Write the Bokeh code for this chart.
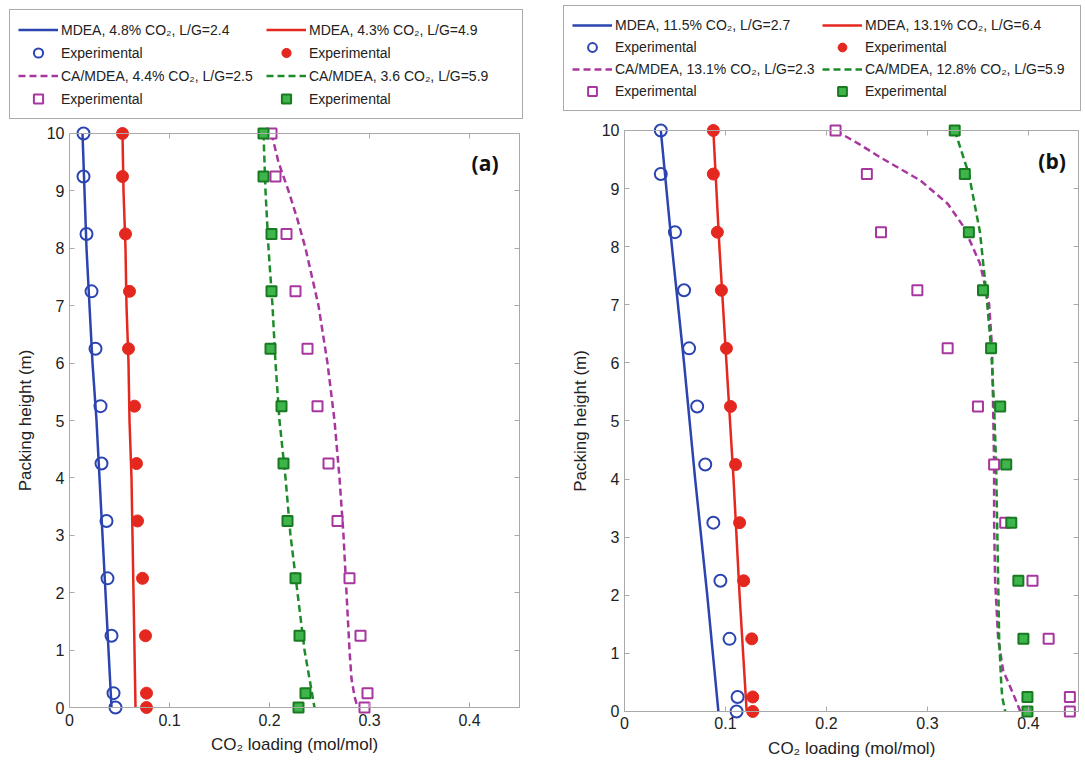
import math
from bokeh.plotting import figure
from bokeh.models import (Legend, LegendItem, LinearAxis, FixedTicker, Range1d, Label)
from bokeh.core.properties import value
from bokeh.layouts import row
from bokeh.embed import file_html
from bokeh.resources import INLINE

FONT = "Liberation Sans"
BLUE = "#2b44b0"
RED = "#e5281f"
MAGENTA = "#a8369f"
GREEN_LINE = "#1e8b2a"
GREEN_FILL = "#3db54a"
GREEN_EDGE = "#1a7a22"
AXIS_COLOR = "#a9a9a9"
TEXT_COLOR = "#222222"

# ---------------- data : panel (a) ----------------
a_labels = ["MDEA, 4.8% CO₂, L/G=2.4", "MDEA, 4.3% CO₂, L/G=4.9",
            "CA/MDEA, 4.4% CO₂, L/G=2.5", "CA/MDEA, 3.6 CO₂, L/G=5.9"]
a_h_line = [10, 9, 8, 7, 6, 5, 4, 3, 2, 1, 0]
a_mdea1_line = [0.013, 0.015, 0.017, 0.020, 0.023, 0.027, 0.030, 0.033, 0.036, 0.039, 0.042]
a_mdea2_line = [0.053, 0.054, 0.056, 0.057, 0.059, 0.060, 0.062, 0.063, 0.064, 0.065, 0.066]
a_ca2_line = [0.194, 0.196, 0.199, 0.203, 0.206, 0.210, 0.216, 0.221, 0.228, 0.235, 0.245]
a_h_ca1_line = [10, 9.5, 9, 8.5, 8, 7, 6, 5, 4, 3, 2, 1, 0.5, 0.2, 0]
a_ca1_line = [0.202, 0.209, 0.219, 0.228, 0.236, 0.249, 0.258, 0.265, 0.270, 0.274,
              0.277, 0.280, 0.282, 0.285, 0.288]
a_h_exp = [10, 9.25, 8.25, 7.25, 6.25, 5.25, 4.25, 3.25, 2.25, 1.25, 0.25, 0]
a_mdea1_exp = [0.014, 0.014, 0.017, 0.022, 0.026, 0.031, 0.032, 0.037, 0.038, 0.042, 0.044, 0.046]
a_mdea2_exp = [0.053, 0.053, 0.056, 0.060, 0.059, 0.065, 0.067, 0.068, 0.073, 0.076, 0.077, 0.077]
a_ca1_exp = [0.202, 0.206, 0.217, 0.226, 0.238, 0.248, 0.259, 0.268, 0.280, 0.291, 0.298, 0.295]
a_ca2_exp = [0.194, 0.194, 0.202, 0.202, 0.201, 0.212, 0.214, 0.218, 0.226, 0.230, 0.236, 0.229]

# ---------------- data : panel (b) ----------------
b_labels = ["MDEA, 11.5% CO₂, L/G=2.7", "MDEA, 13.1% CO₂, L/G=6.4",
            "CA/MDEA, 13.1% CO₂, L/G=2.3", "CA/MDEA, 12.8% CO₂, L/G=5.9"]
b_h_mdea_line = [10, 8, 6, 4, 2, 0]
b_mdea1_line = [0.036, 0.047, 0.059, 0.070, 0.082, 0.093]
b_mdea2_line = [0.088, 0.094, 0.101, 0.108, 0.114, 0.121]
b_h_ca1_line = [10, 9.77, 9.54, 9.14, 8.74, 8.34, 7.71, 7.02, 6.25, 5.25, 4.25, 3.25,
                2.25, 1.25, 0.7, 0.3, 0]
b_ca1_line = [0.209, 0.232, 0.253, 0.293, 0.320, 0.336, 0.352, 0.361, 0.364, 0.365,
              0.366, 0.366, 0.367, 0.370, 0.375, 0.385, 0.392]
b_h_ca2_line = [10, 9.25, 8.25, 7.25, 6.25, 5.25, 4.25, 3.25, 2.25, 1.25, 0.5, 0.25, 0]
b_ca2_line = [0.327, 0.341, 0.352, 0.358, 0.363, 0.366, 0.368, 0.369, 0.370, 0.371,
              0.373, 0.374, 0.377]
b_h_exp = [10, 9.25, 8.25, 7.25, 6.25, 5.25, 4.25, 3.25, 2.25, 1.25, 0.25, 0]
b_mdea1_exp = [0.036, 0.036, 0.050, 0.059, 0.064, 0.072, 0.080, 0.088, 0.095, 0.104, 0.112, 0.111]
b_mdea2_exp = [0.088, 0.088, 0.092, 0.096, 0.101, 0.105, 0.110, 0.114, 0.118, 0.126, 0.127, 0.127]
b_ca1_exp = [0.209, 0.240, 0.254, 0.290, 0.320, 0.350, 0.366, 0.377, 0.404, 0.420, 0.441, 0.441]
b_ca2_exp = [0.327, 0.337, 0.341, 0.355, 0.363, 0.372, 0.378, 0.383, 0.390, 0.395, 0.399, 0.399]

x_ticks = [0, 0.1, 0.2, 0.3, 0.4]
x_tick_labels = ["0", "0.1", "0.2", "0.3", "0.4"]
y_ticks = [0, 1, 2, 3, 4, 5, 6, 7, 8, 9, 10]
y_tick_labels = ["0", "1", "2", "3", "4", "5", "6", "7", "8", "9", "10"]
x_title = "CO₂ loading (mol/mol)"
y_title = "Packing height (m)"
X_MAX = 0.45
Y_MAX = 10


def tick_axis(fixed, bounds, ticks):
    ax = LinearAxis(fixed_location=fixed, bounds=bounds, ticker=FixedTicker(ticks=ticks))
    ax.axis_line_color = AXIS_COLOR
    ax.axis_line_width = 1
    ax.major_tick_line_color = AXIS_COLOR
    ax.major_tick_in = 5
    ax.major_tick_out = 0
    ax.minor_tick_line_color = None
    ax.major_label_text_color = None
    ax.major_label_text_font_size = "0px"
    ax.major_label_standoff = 0
    return ax


def make_panel(width, xr, yr, tag, tag_x, legend_margin, label_h, label_w, labels,
               h1, l1, h2, l2, h3, l3, h4, l4, he, e1, e2, e3, e4):
    p = figure(width=width, height=762, x_range=Range1d(*xr), y_range=Range1d(*yr),
               output_backend="svg", toolbar_location=None,
               x_axis_location=None, y_axis_location=None,
               min_border=0, outline_line_color=None,
               background_fill_color="white", border_fill_color="white")
    p.grid.visible = False

    # box: axis lines + inward ticks on all four sides
    p.add_layout(tick_axis(0, (0, X_MAX), x_ticks), "below")
    p.add_layout(tick_axis(Y_MAX, (0, X_MAX), x_ticks), "above")
    p.add_layout(tick_axis(0, (0, Y_MAX), y_ticks), "left")
    p.add_layout(tick_axis(X_MAX, (0, Y_MAX), y_ticks), "right")

    # tick labels and axis titles
    p.text(x=x_ticks, y=[0] * len(x_ticks), text=x_tick_labels, x_offset=0, y_offset=12,
           text_align="center", text_baseline="middle", text_font=value(FONT),
           text_font_size="16px", text_color=TEXT_COLOR)
    p.text(x=[0] * len(y_ticks), y=y_ticks, text=y_tick_labels, x_offset=-5, y_offset=0,
           text_align="right", text_baseline="middle", text_font=value(FONT),
           text_font_size="16px", text_color=TEXT_COLOR)
    p.text(x=[X_MAX / 2], y=[0], text=[x_title], y_offset=37, text_align="center",
           text_baseline="middle", text_font=value(FONT), text_font_size="17px",
           text_color=TEXT_COLOR)
    p.text(x=[0], y=[Y_MAX / 2], text=[y_title], x_offset=-44, angle=math.pi / 2,
           text_align="center", text_baseline="middle", text_font=value(FONT),
           text_font_size="17px", text_color=TEXT_COLOR)

    p.add_layout(Label(x=tag_x, y=9.48, text=tag, text_align="right",
                       text_baseline="middle", text_font="Open Sans",
                       text_font_style="bold", text_font_size="21px",
                       text_color="#111111", background_fill_color="white"))

    r1 = p.line(l1, h1, color=BLUE, line_width=2.5)
    r5 = p.line(l2, h2, color=RED, line_width=2.5)
    r3 = p.line(l3, h3, color=MAGENTA, line_width=2.5, line_dash="7 4")
    r7 = p.line(l4, h4, color=GREEN_LINE, line_width=2.5, line_dash="7 4")
    r2 = p.scatter(e1, he, marker="circle", size=12, line_color=BLUE, line_width=2, fill_color=None)
    r6 = p.scatter(e2, he, marker="circle", size=12, line_color=RED, fill_color=RED)
    r4 = p.scatter(e3, he, marker="square", size=10, line_color=MAGENTA, line_width=2, fill_color="white")
    r8 = p.scatter(e4, he, marker="square", size=10, line_color=GREEN_EDGE, line_width=2, fill_color=GREEN_FILL)

    items = [LegendItem(label=labels[0], renderers=[r1]),
             LegendItem(label="Experimental", renderers=[r2]),
             LegendItem(label=labels[2], renderers=[r3]),
             LegendItem(label="Experimental", renderers=[r4]),
             LegendItem(label=labels[1], renderers=[r5]),
             LegendItem(label="Experimental", renderers=[r6]),
             LegendItem(label=labels[3], renderers=[r7]),
             LegendItem(label="Experimental", renderers=[r8])]
    leg = Legend(items=items, location="top_left", margin=legend_margin, ncols=2,
                 label_text_font=FONT, label_text_font_size="14px",
                 label_text_color=TEXT_COLOR, label_height=label_h, glyph_height=label_h,
                 glyph_width=40, label_standoff=3, label_width=label_w, spacing=0, padding=8,
                 border_line_color="#555555", border_line_width=1.5,
                 background_fill_color="white")
    p.add_layout(leg)
    return p


pa = make_panel(558, (-0.069, 0.489), (-0.958, 12.317), "(a)", 0.429, 9, 23, 205, a_labels,
                a_h_line, a_mdea1_line, a_h_line, a_mdea2_line,
                a_h_ca1_line, a_ca1_line, a_h_line, a_ca2_line,
                a_h_exp, a_mdea1_exp, a_mdea2_exp, a_ca1_exp, a_ca2_exp)

pb = make_panel(525, (-0.0653, 0.4545), (-0.878, 12.2375), "(b)", 0.437, 5, 22, 207, b_labels,
                b_h_mdea_line, b_mdea1_line, b_h_mdea_line, b_mdea2_line,
                b_h_ca1_line, b_ca1_line, b_h_ca2_line, b_ca2_line,
                b_h_exp, b_mdea1_exp, b_mdea2_exp, b_ca1_exp, b_ca2_exp)

layout = row(pa, pb, spacing=0)

open("out.html", "w").write(file_html(layout, INLINE))
